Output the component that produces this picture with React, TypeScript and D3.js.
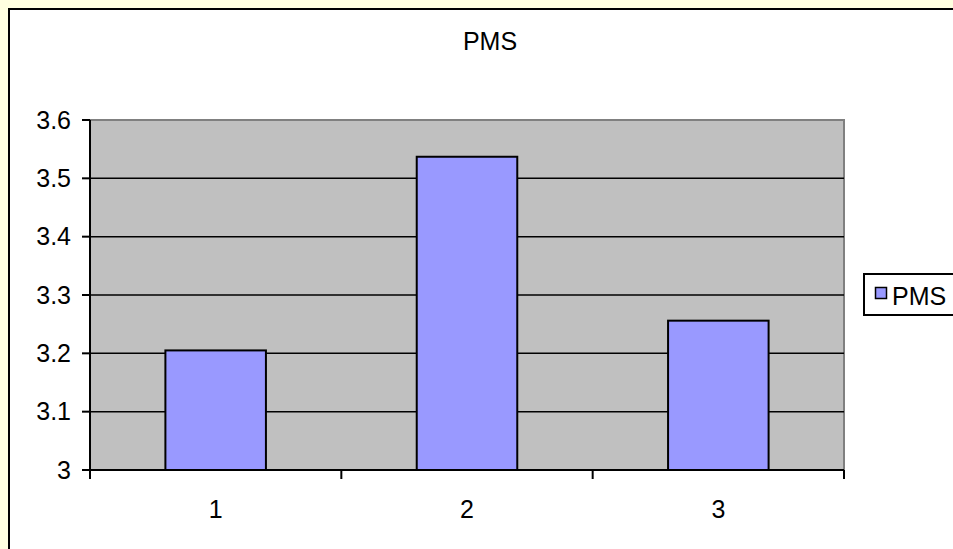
import * as d3 from "d3";

const categories = ["1", "2", "3"];
const pmsValues = [3.205, 3.537, 3.256];
const yTicks = [3, 3.1, 3.2, 3.3, 3.4, 3.5, 3.6];
const seriesName = "PMS";

const W = 953;
const H = 549;
const plot = { left: 90, top: 120, right: 844, bottom: 470 };
const font = "Arial, 'Liberation Sans', sans-serif";
const fs = 25;

export default function App() {
  const x = d3
    .scaleBand<string>()
    .domain(categories)
    .range([plot.left, plot.right])
    .paddingInner(0.6)
    .paddingOuter(0.3);
  const xEdges = d3
    .scaleBand<string>()
    .domain(categories)
    .range([plot.left, plot.right]);
  const y = d3.scaleLinear().domain([3, 3.6]).range([plot.bottom, plot.top]);
  const fmt = d3.format("~g");

  return (
    <svg
      width={W}
      height={H}
      style={{ position: "absolute", left: 0, top: 0, fontFamily: font }}
    >
      <rect x={0} y={0} width={W} height={H} fill="#FFFFE0" />
      <rect x={9} y={9} width={1000} height={600} fill="#fff" stroke="#000" strokeWidth={2} />

      <text x={490} y={50} textAnchor="middle" fontSize={fs}>
        PMS
      </text>

      {/* plot area */}
      <rect
        x={plot.left}
        y={plot.top}
        width={plot.right - plot.left}
        height={plot.bottom - plot.top}
        fill="#C0C0C0"
        stroke="#808080"
        strokeWidth={2}
      />

      {/* gridlines */}
      {yTicks.slice(1, -1).map((t) => (
        <line key={t} x1={plot.left} x2={plot.right} y1={y(t)} y2={y(t)} stroke="#000" strokeWidth={1.5} />
      ))}

      {/* bars */}
      {categories.map((c, i) => (
        <rect
          key={c}
          x={x(c)}
          y={y(pmsValues[i])}
          width={x.bandwidth()}
          height={plot.bottom - y(pmsValues[i])}
          fill="#9999FF"
          stroke="#000"
          strokeWidth={2}
        />
      ))}

      {/* y axis */}
      <line x1={plot.left} x2={plot.left} y1={plot.top} y2={plot.bottom} stroke="#000" strokeWidth={2} />
      {yTicks.map((t) => (
        <g key={t}>
          <line x1={plot.left - 8} x2={plot.left} y1={y(t)} y2={y(t)} stroke="#000" strokeWidth={2} />
          <text x={plot.left - 19} y={y(t)} dy="0.35em" textAnchor="end" fontSize={fs}>
            {fmt(t)}
          </text>
        </g>
      ))}

      {/* x axis */}
      <line x1={plot.left} x2={plot.right} y1={plot.bottom} y2={plot.bottom} stroke="#000" strokeWidth={2} />
      {[...categories.map((c) => xEdges(c) as number), plot.right].map((e) => (
        <line key={e} x1={e} x2={e} y1={plot.bottom} y2={plot.bottom + 9} stroke="#000" strokeWidth={2} />
      ))}
      {categories.map((c) => (
        <text
          key={c}
          x={(xEdges(c) as number) + xEdges.bandwidth() / 2}
          y={518}
          textAnchor="middle"
          fontSize={fs}
        >
          {c}
        </text>
      ))}

      {/* legend */}
      <rect x={864} y={274} width={200} height={41} fill="#fff" stroke="#000" strokeWidth={2} />
      <rect x={875.5} y={287.5} width={11} height={11} fill="#9999FF" stroke="#000" strokeWidth={1.5} />
      <text x={892} y={305} fontSize={fs}>
        {seriesName}
      </text>
    </svg>
  );
}
